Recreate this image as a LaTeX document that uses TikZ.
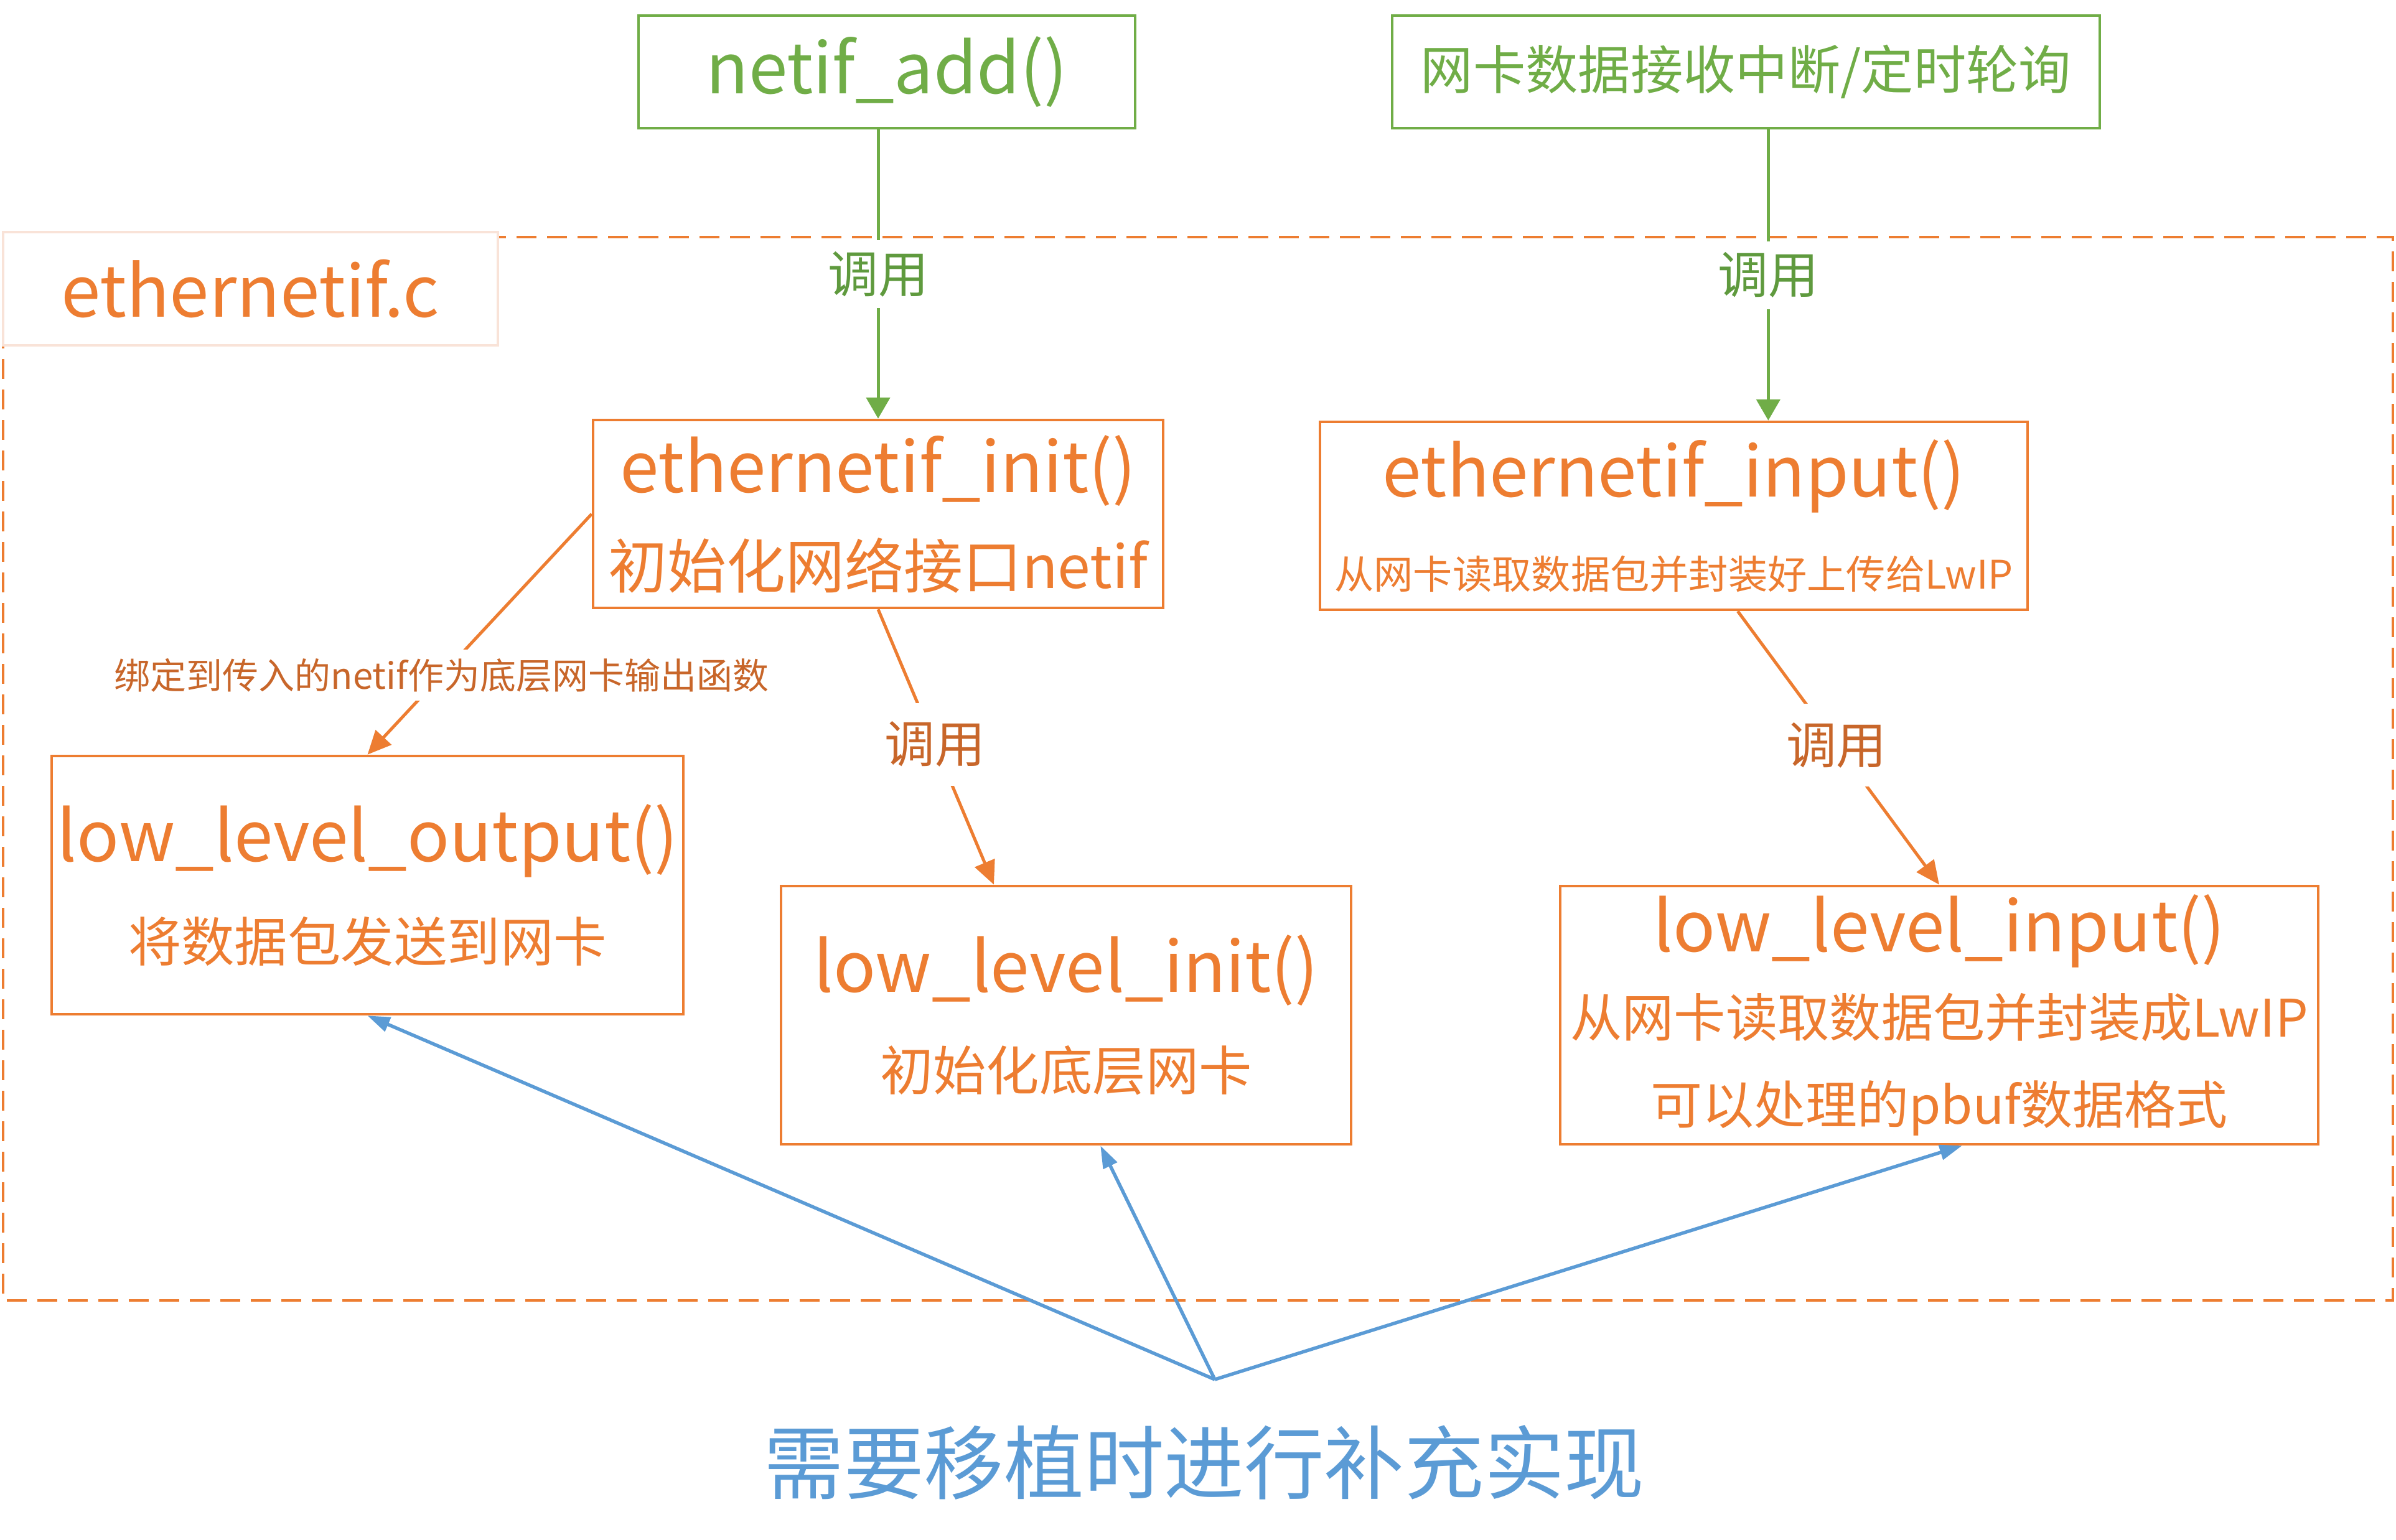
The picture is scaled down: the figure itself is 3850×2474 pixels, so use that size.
\documentclass[tikz,border=0pt]{standalone}
\usepackage{fontspec}
\newfontfamily\cjk{Noto Sans CJK SC}
\usetikzlibrary{arrows.meta,calc}
\definecolor{oranye}{HTML}{ED7D31}
\definecolor{oranyetua}{HTML}{C8662A}
\definecolor{hijau}{HTML}{70AD47}
\definecolor{hijautua}{HTML}{5F9A3E}
\definecolor{biru}{HTML}{5B9BD5}
\definecolor{merahmuda}{HTML}{F9E3D8}
\newcommand\fjudul{\fontsize{32}{40}\selectfont}
\newcommand\fsub{\fontsize{24.3}{30}\selectfont}
\begin{document}
\begin{tikzpicture}[x=0.1mm,y=-0.1mm,
      kotak/.style={draw=oranye,line width=0.45mm,inner sep=0pt,align=center,
        text=oranye,font=\cjk\fjudul},
      kotakatas/.style={draw=hijau,line width=0.45mm,inner sep=0pt,
        minimum height=18.1mm,text=hijau,font=\cjk\fjudul},
      panahhijau/.style={draw=hijau,line width=0.5mm,-{Triangle[width=3.8mm,length=3.4mm]}},
      panahoranye/.style={draw=oranye,line width=0.5mm,-{Triangle[width=3.4mm,length=3.8mm]}},
      panahbiru/.style={draw=biru,line width=0.55mm,-{Triangle[width=2.4mm,length=3.6mm]}},
      label/.style={fill=white,font=\cjk\fontsize{23}{28}\selectfont}]
    \useasboundingbox (0,0) rectangle (3850,2474);
    % Bingkai ethernetif.c
    \draw[oranye,line width=0.4mm,dash pattern=on 3.2mm off 1.7mm] (5,381) rectangle (3845,2090);
    \node[draw=merahmuda,fill=white,line width=0.4mm,minimum width=79.5mm,minimum height=18.2mm,
      text=oranye,font=\cjk\fontsize{32.5}{40}\selectfont] (berkas) at (402,464) {ethernetif.c};
    % Pemanggil di luar
    \node[kotakatas,minimum width=79.8mm] (add) at (1425,115.5) {netif\_add()};
    \node[kotakatas,minimum width=113.7mm,font=\cjk\fontsize{24}{28}\selectfont] (irq)
      at (2805.5,115.5) {网卡数据接收中断/定时轮询};
    % Fungsi dalam ethernetif.c
    \node[kotak,minimum width=91.6mm,minimum height=30.2mm] (init) at (1411,826)
      {ethernetif\_init()\\[3.8pt]{\fontsize{27}{32}\selectfont 初始化网络接口netif}};
    \node[kotak,minimum width=113.7mm,minimum height=30.2mm] (inp) at (2689.5,829)
      {ethernetif\_input()\\[2pt]{\fontsize{18}{22}\selectfont 从网卡读取数据包并封装好上传给LwIP}};
    \node[kotak,minimum width=101.5mm,minimum height=41.5mm] (out) at (590.5,1422.5)
      {low\_level\_output()\\[6pt]{\fsub 将数据包发送到网卡}};
    \node[kotak,minimum width=91.6mm,minimum height=41.5mm] (lli) at (1713,1631.5)
      {low\_level\_init()\\[5pt]{\fsub 初始化底层网卡}};
    \node[kotak,minimum width=121.8mm,minimum height=41.5mm] (lin) at (3116,1631.5)
      {low\_level\_input()\\[-1.2pt]{\fontsize{23.7}{30}\selectfont 从网卡读取数据包并封装成LwIP}\\[-0.2pt]
       {\fontsize{23.6}{30}\selectfont 可以处理的pbuf数据格式}};
    % Titik ujung panah
    \coordinate (inpatas) at ($(inp.north west)!0.633!(inp.north east)$);
    \coordinate (inpbawah) at ($(inp.south west)!0.59!(inp.south east)$);
    \coordinate (lliatas) at ($(lli.north west)!0.374!(lli.north east)$);
    \coordinate (llibawah) at ($(lli.south west)!0.56!(lli.south east)$);
    \coordinate (linbawah) at ($(lin.south west)!0.53!(lin.south east)$);
    \coordinate (porting) at (1952,2217);
    % Panggilan
    \draw[panahhijau] (init.north |- add.south) -- (init.north)
      node[label,text=hijautua,inner sep=1.8mm,pos=0.5] (c1) {调用};
    \draw[panahhijau] (irq.south -| inpatas) -- (inpatas)
      node[label,text=hijautua,inner sep=1.8mm,pos=0.5] (c2) {调用};
    \draw[panahoranye] (init.west) -- (out.north)
      node[fill=white,text=oranyetua,inner sep=1.4mm,pos=0.67,font=\cjk\fontsize{16.5}{20}\selectfont] (c3)
      {绑定到传入的netif作为底层网卡输出函数};
    \draw[panahoranye] (init.south) -- (lliatas)
      node[label,text=oranyetua,inner sep=3mm,pos=0.49] (c4) {调用};
    \draw[panahoranye] (inpbawah) -- (lin.north)
      node[label,text=oranyetua,inner sep=3mm,pos=0.49] (c5) {调用};
    % Bagian yang perlu di-port
    \draw[panahbiru] (porting) -- (out.south);
    \draw[panahbiru] (porting) -- (llibawah);
    \draw[panahbiru] (porting) -- (linbawah);
    \node[text=biru,font=\cjk\fontsize{36.6}{42}\selectfont] (ket) at (1935,2350) {需要移植时进行补充实现};
  \end{tikzpicture}
\end{document}
